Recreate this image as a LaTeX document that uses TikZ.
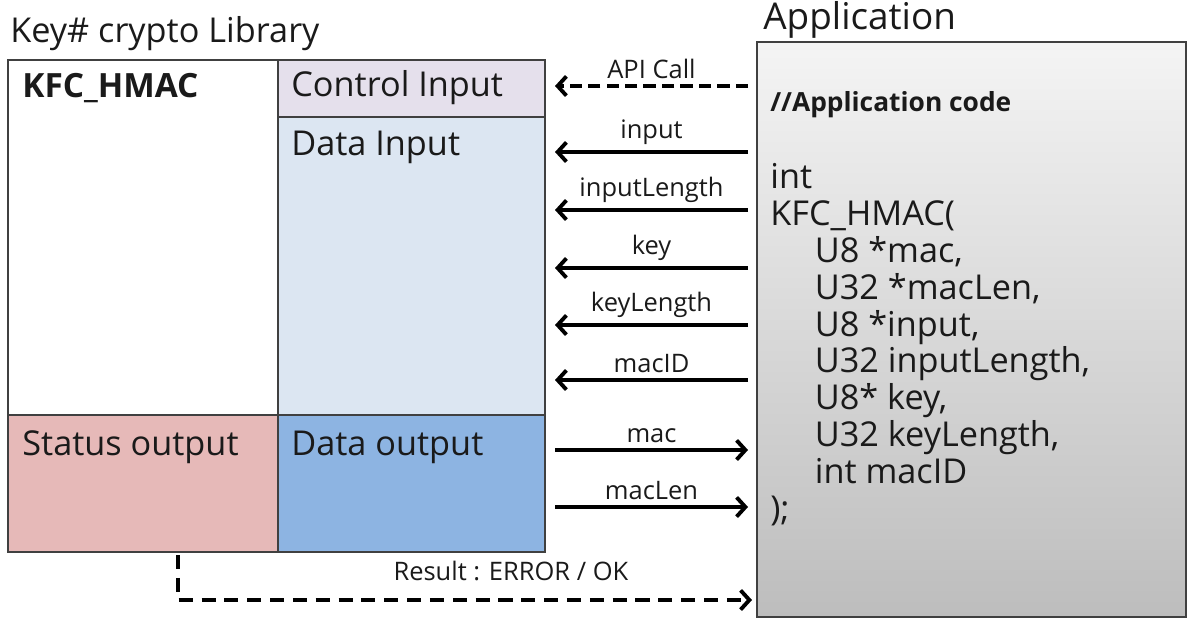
\documentclass[tikz,border=0pt]{standalone}
\usepackage{fontspec}
\setmainfont{Open Sans}
\usetikzlibrary{arrows.meta,positioning}

\definecolor{ctrlfill}{HTML}{E5E0EC}
\definecolor{infill}{HTML}{DCE6F2}
\definecolor{statusfill}{HTML}{E6B9B8}
\definecolor{outfill}{HTML}{8DB4E2}
\definecolor{celledge}{HTML}{404040}
\definecolor{apptop}{HTML}{F4F4F4}
\definecolor{appbot}{HTML}{BDBDBD}
\definecolor{inktext}{HTML}{1A1A1A}

\tikzset{
  cell/.style = {draw = celledge, line width = 1.1pt},
  celltext/.style = {anchor = west, inner sep = 0, text = inktext,
    font = \fontsize{19.5}{23}\selectfont},
  argarrow/.style = {line width = 2.2pt, -{Straight Barb[length = 5pt, width = 11pt]}},
  arglabel/.style = {above = 3pt, inner sep = 0, text = inktext,
    font = \fontsize{14.5}{17}\selectfont},
  calldash/.style = {dash pattern = on 7pt off 3.5pt},
  resultdash/.style = {dash pattern = on 8pt off 5pt}
}

\begin{document}
\begin{tikzpicture}[x = 0.02cm, y = -0.02cm]
  \useasboundingbox (0, 0) rectangle (1188, 619);

  % library block
  \draw[cell, fill = white] (8, 60) rectangle (278, 415);
  \draw[cell, fill = ctrlfill] (278, 60) rectangle (545, 117);
  \draw[cell, fill = infill] (278, 117) rectangle (545, 415);
  \draw[cell, fill = statusfill] (8, 415) rectangle (278, 552);
  \draw[cell, fill = outfill] (278, 415) rectangle (545, 552);

  \node[celltext] (libtitle) at (10, 34) {Key\# crypto Library};
  \node[celltext, font = \fontsize{19}{23}\selectfont\bfseries] (fname) at (22, 88) {KFC\_HMAC};
  \node[celltext] (ctrl) at (291, 88) {Control Input};
  \node[celltext] (datain) at (291, 147) {Data Input};
  \node[celltext] (status) at (22, 447) {Status output};
  \node[celltext] (dataout) at (291, 447) {Data output};

  % application block
  \shade[top color = apptop, bottom color = appbot, draw = celledge, line width = 0.9pt]
    (757, 42) rectangle (1186, 617);
  \node[celltext, font = \fontsize{21}{25}\selectfont] (apptitle) at (763, 20) {Application};
  \node[celltext, font = \fontsize{15}{18}\selectfont\bfseries] (comment) at (770, 105) {//Application code};
  \node[celltext, anchor = north west, align = left, font = \fontsize{19.5}{21}\selectfont]
    (code) at (770, 163) {int\\KFC\_HMAC(\\
    \hspace*{1.3em}U8 *mac,\\
    \hspace*{1.3em}U32 *macLen,\\
    \hspace*{1.3em}U8 *input,\\
    \hspace*{1.3em}U32 inputLength,\\
    \hspace*{1.3em}U8* key,\\
    \hspace*{1.3em}U32 keyLength,\\
    \hspace*{1.3em}int macID\\
    );};

  \coordinate (libedge) at (555, 0);
  \coordinate (appedge) at (748, 0);
  \coordinate (statusfoot) at (178, 555);
  \coordinate (resultend) at (752, 600);

  \draw[argarrow, calldash] (appedge |- 0, 86) -- (libedge |- 0, 86)
    node[midway, arglabel] (apicall) {API Call};

  \foreach \y/\arg in {152/input, 210/inputLength, 268/key, 325/keyLength, 380/macID}{
    \draw[argarrow] (appedge |- 0, \y) -- (libedge |- 0, \y)
      node[midway, arglabel] {\arg};
  }
  \foreach \y/\arg in {450/mac, 507/macLen}{
    \draw[argarrow] (libedge |- 0, \y) -- (appedge |- 0, \y)
      node[midway, arglabel] {\arg};
  }

  \draw[argarrow, resultdash] (statusfoot) |- (resultend)
    node[pos = 0.79, arglabel, above = 10pt] (result) {Result : ERROR / OK};
\end{tikzpicture}
\end{document}
